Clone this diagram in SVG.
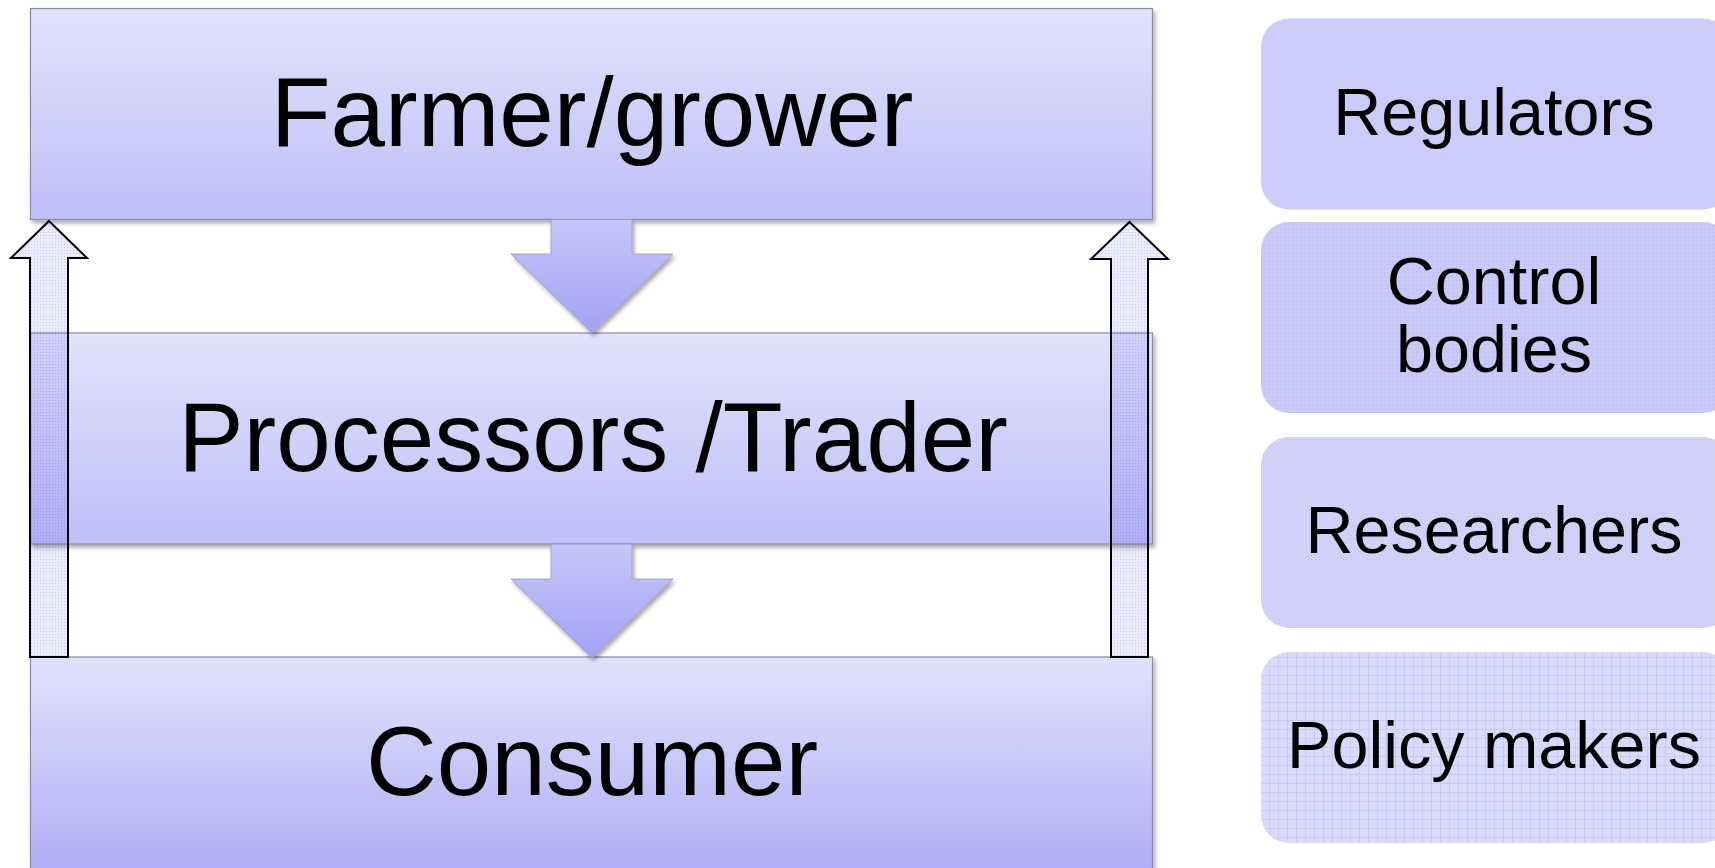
<svg xmlns="http://www.w3.org/2000/svg" width="1715" height="868" viewBox="0 0 1715 868">
<defs>
<linearGradient id="gBox" x1="0" y1="0" x2="0" y2="1">
<stop offset="0" stop-color="#e2e2fc"/>
<stop offset="1" stop-color="#bfbff9"/>
</linearGradient>
<linearGradient id="gBoxDark" x1="0" y1="0" x2="0" y2="1">
<stop offset="0" stop-color="#e2e2fc"/>
<stop offset="1" stop-color="#a8a8f6"/>
</linearGradient>
<linearGradient id="gDown" x1="0" y1="0" x2="0" y2="1">
<stop offset="0" stop-color="#c6c6f9"/>
<stop offset="1" stop-color="#a2a2f5"/>
</linearGradient>
<pattern id="pGridFine" width="4" height="4" patternUnits="userSpaceOnUse">
<rect width="4" height="4" fill="#cbcbfa"/>
<path d="M0 0.5H4M0.5 0V4" stroke="#c3c3f4" stroke-width="0.6"/>
</pattern>
<pattern id="pDots" width="4" height="4" patternUnits="userSpaceOnUse">
<rect width="4" height="4" fill="#d2d2fb"/>
<rect x="1" y="1" width="1" height="1" fill="#c2c2f2"/>
<rect x="3" y="3" width="1" height="1" fill="#c2c2f2"/>
</pattern>
<pattern id="pGrid" width="9" height="9" patternUnits="userSpaceOnUse">
<rect width="9" height="9" fill="#dadafc"/>
<path d="M0 0.5H9M0.5 0V9" stroke="#cacaf6" stroke-width="1"/>
</pattern>
<pattern id="pArrow" width="3" height="3" patternUnits="userSpaceOnUse">
<rect width="3" height="3" fill="#ebebfd"/>
<rect x="1" y="1" width="1" height="1" fill="#c6c6f4"/>
</pattern>
<filter id="shadow" x="-5%" y="-5%" width="110%" height="115%">
<feDropShadow dx="2" dy="3" stdDeviation="2" flood-color="#000" flood-opacity="0.35"/>
</filter>
<style>
.box{stroke:#8a8aaa;stroke-width:1.2;filter:url(#shadow)}
.main{font-family:"Liberation Sans",Arial,sans-serif;font-size:98px;fill:#000;text-anchor:middle}
.side{font-family:"Liberation Sans",Arial,sans-serif;font-size:66.5px;fill:#000;text-anchor:middle}
.down{fill:url(#gDown);stroke:#9a9ac0;stroke-width:0.8;filter:url(#shadow)}
.up{fill:url(#pArrow);mix-blend-mode:multiply;stroke:#000;stroke-width:2;stroke-linejoin:miter}
</style>
</defs>
<rect width="1715" height="868" fill="#ffffff"/>

<g id="farmer">
<rect class="box" x="30.5" y="8.5" width="1122" height="211" fill="url(#gBox)"/>
<text class="main" x="592" y="146">Farmer/grower</text>
</g>
<g id="processors">
<rect class="box" x="30.5" y="333" width="1122" height="211" fill="url(#gBox)"/>
<text class="main" x="593" y="471">Processors /Trader</text>
</g>
<g id="consumer">
<rect class="box" x="30.5" y="657" width="1122" height="240" fill="url(#gBoxDark)"/>
<text class="main" x="592" y="795">Consumer</text>
</g>

<g id="regulators">
<rect x="1261" y="18.5" width="470" height="191" rx="28" fill="#ccccfa"/>
<text class="side" x="1494" y="135">Regulators</text>
</g>
<g id="control-bodies">
<rect x="1261" y="222" width="470" height="191" rx="28" fill="url(#pGridFine)"/>
<text class="side" x="1494" y="304">Control</text>
<text class="side" x="1494" y="372">bodies</text>
</g>
<g id="researchers">
<rect x="1261" y="437" width="470" height="191" rx="28" fill="url(#pDots)"/>
<text class="side" x="1494" y="553">Researchers</text>
</g>
<g id="policy-makers">
<rect x="1261" y="652" width="470" height="191" rx="28" fill="url(#pGrid)"/>
<text class="side" x="1494" y="768">Policy makers</text>
</g>

<g id="connectors">
<path class="down" d="M551,219.5 L632,219.5 L632,254 L673,254 L592,333 L511,254 L551,254 Z"/>
<path class="down" d="M551,544 L632,544 L632,579 L673,579 L592,658 L511,579 L551,579 Z"/>
<path class="up" d="M49,221 L87,258 L68,258 L68,657 L30,657 L30,258 L11,258 Z"/>
<path class="up" d="M1129.5,222 L1168,259 L1148,259 L1148,657 L1111,657 L1111,259 L1091,259 Z"/>
</g>
</svg>
